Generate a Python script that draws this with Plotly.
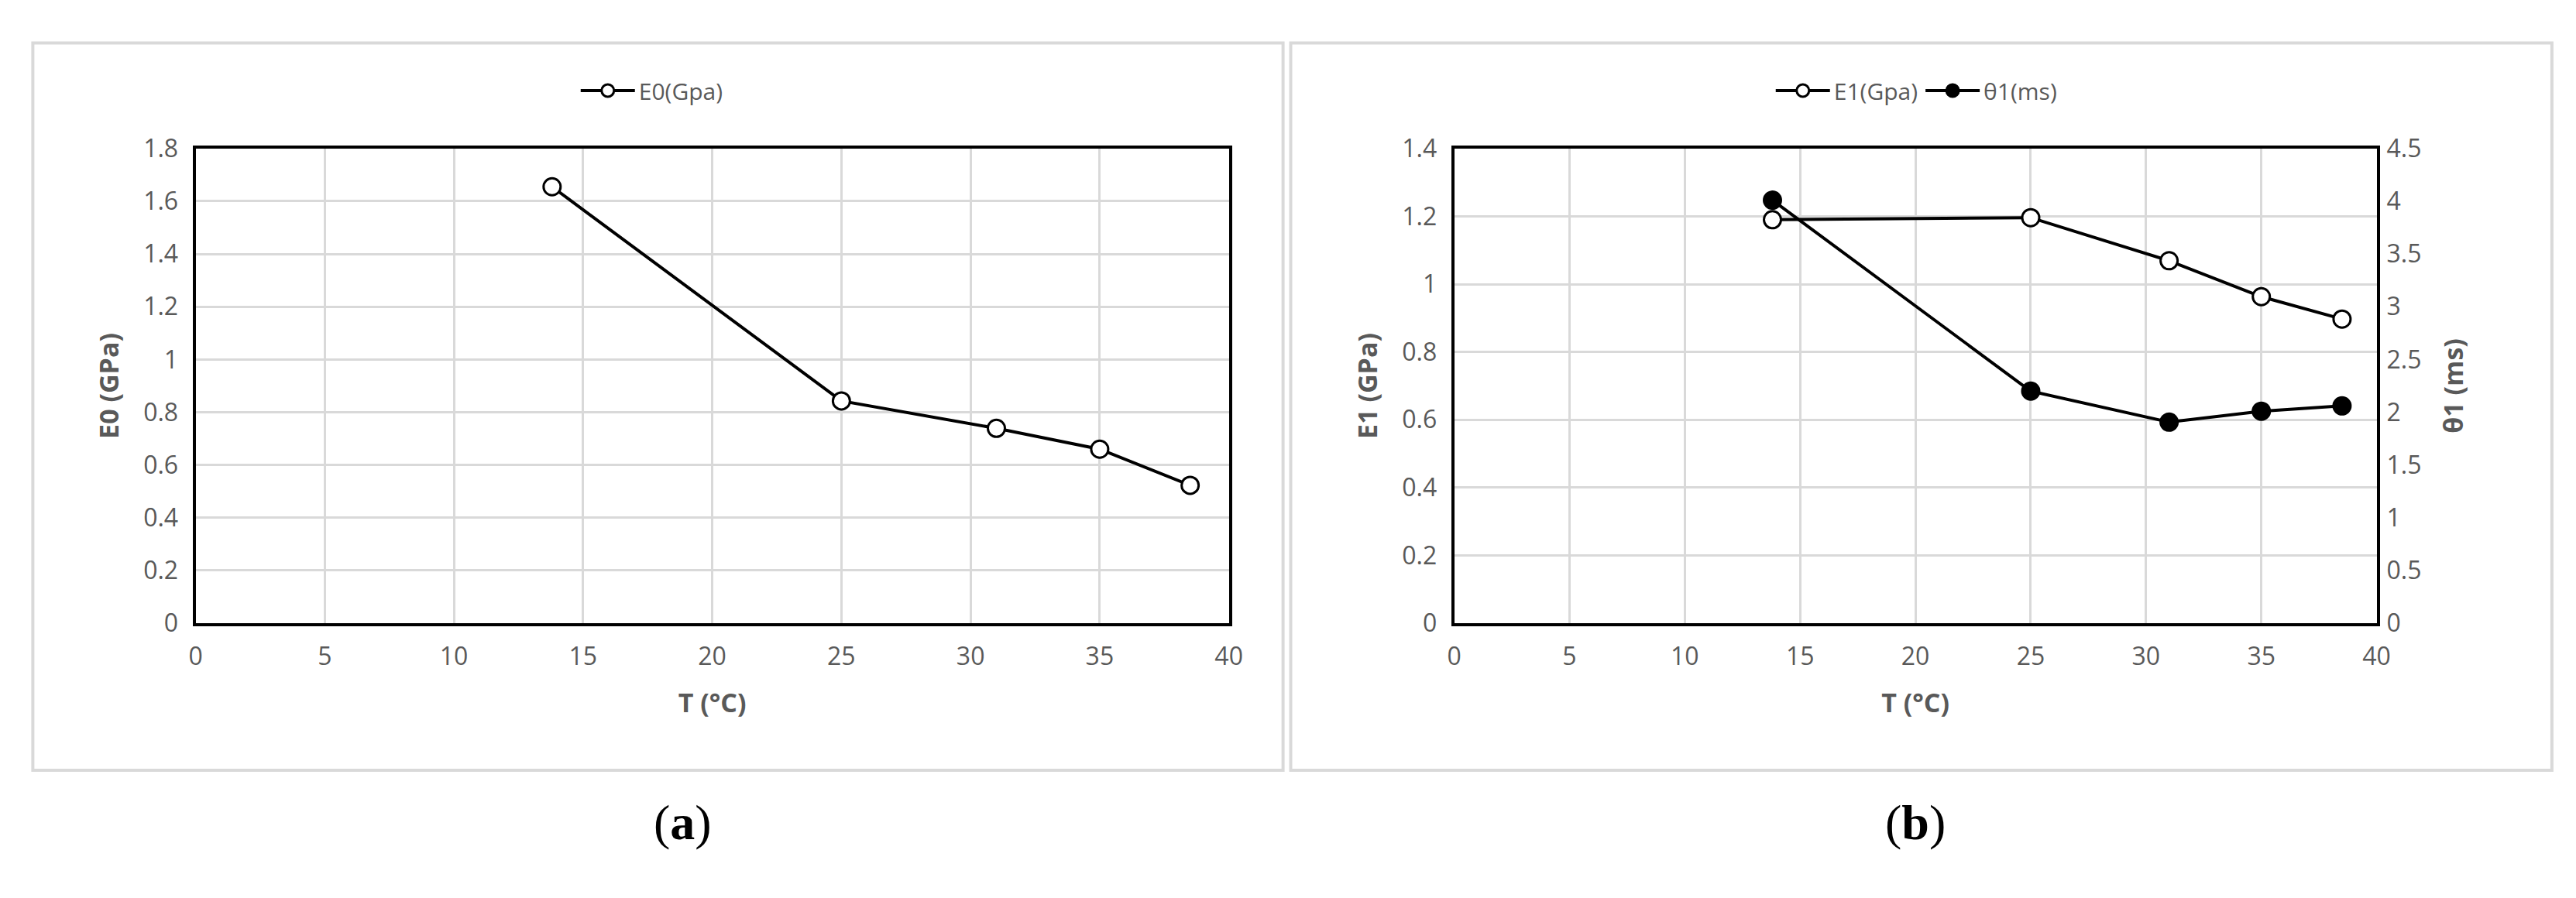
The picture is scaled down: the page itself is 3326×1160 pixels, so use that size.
import plotly.graph_objects as go

T = [13.8, 25, 31, 35, 38.5]
E0 = [1.655, 0.843, 0.739, 0.66, 0.523]
E1 = [1.19, 1.196, 1.069, 0.963, 0.897]
theta1 = [4.01, 2.20, 1.906, 2.01, 2.06]

fig = go.Figure()
mk_open = dict(symbol="circle", size=22, color="white", line=dict(color="black", width=3))
mk_fill = dict(symbol="circle", size=22, color="black", line=dict(color="black", width=3))
ln = dict(color="black", width=4)
fig.add_trace(go.Scatter(x=T, y=E0, mode="lines+markers", name="E0(Gpa)", marker=mk_open, line=ln,
                         xaxis="x", yaxis="y", legend="legend"))
fig.add_trace(go.Scatter(x=T, y=E1, mode="lines+markers", name="E1(Gpa)", marker=mk_open, line=ln,
                         xaxis="x2", yaxis="y2", legend="legend2"))
fig.add_trace(go.Scatter(x=T, y=theta1, mode="lines+markers", name="θ1(ms)", marker=mk_fill, line=ln,
                         xaxis="x2", yaxis="y3", legend="legend2"))

tf = dict(family="Open Sans", size=32, color="#595959")
titf = dict(family="Open Sans", size=34, color="#595959", weight="bold")
common = dict(showgrid=True, gridcolor="#d9d9d9", gridwidth=3, zeroline=False, tickfont=tf,
              showline=True, linecolor="black", linewidth=4, mirror=True, ticks="",
              ticklabelstandoff=12)
yb = [0.307, 0.856]
fig.update_layout(
    width=3326, height=1160, paper_bgcolor="white", plot_bgcolor="white",
    margin=dict(l=0, r=0, t=0, b=0), showlegend=True,
    xaxis=dict(domain=[0.0714, 0.4758], range=[0, 40], dtick=5, anchor="y",
               title=dict(text="T (°C)", font=titf, standoff=30), **common),
    yaxis=dict(domain=yb, range=[0, 1.8], dtick=0.2, anchor="x",
               title=dict(text="E0 (GPa)", font=titf, standoff=22), **common),
    xaxis2=dict(domain=[0.564, 0.925], range=[0, 40], dtick=5, anchor="y2",
                title=dict(text="T (°C)", font=titf, standoff=30), **common),
    yaxis2=dict(domain=yb, range=[0, 1.4], dtick=0.2, anchor="x2",
                title=dict(text="E1 (GPa)", font=titf, standoff=22), **common),
    yaxis3=dict(range=[0, 4.5], dtick=0.5, overlaying="y2", side="right", anchor="x2",
                showgrid=False, zeroline=False, tickfont=tf, ticks="", ticklabelstandoff=12,
                title=dict(text="θ1 (ms)", font=titf, standoff=30)),
    legend=dict(x=0.25, y=0.923, xanchor="center", yanchor="middle", orientation="h",
                font=dict(family="Open Sans", size=30, color="#595959"), itemwidth=70),
    legend2=dict(x=0.745, y=0.923, xanchor="center", yanchor="middle", orientation="h",
                 font=dict(family="Open Sans", size=30, color="#595959"), itemwidth=70),
    shapes=[
        dict(type="rect", xref="paper", yref="paper", x0=0.0077, x1=0.497, y0=0.137, y1=0.978,
             line=dict(color="#d9d9d9", width=4)),
        dict(type="rect", xref="paper", yref="paper", x0=0.5, x1=0.9936, y0=0.137, y1=0.978,
             line=dict(color="#d9d9d9", width=4)),
    ],
    annotations=[
        dict(text="(<b>a</b>)", x=0.25, y=0.11, xref="paper", yref="paper", showarrow=False,
             yanchor="top", font=dict(family="Liberation Serif", size=64, color="black")),
        dict(text="(<b>b</b>)", x=0.757, y=0.11, xref="paper", yref="paper", showarrow=False,
             yanchor="top", font=dict(family="Liberation Serif", size=64, color="black")),
    ],
)
fig.write_html("out.html")
